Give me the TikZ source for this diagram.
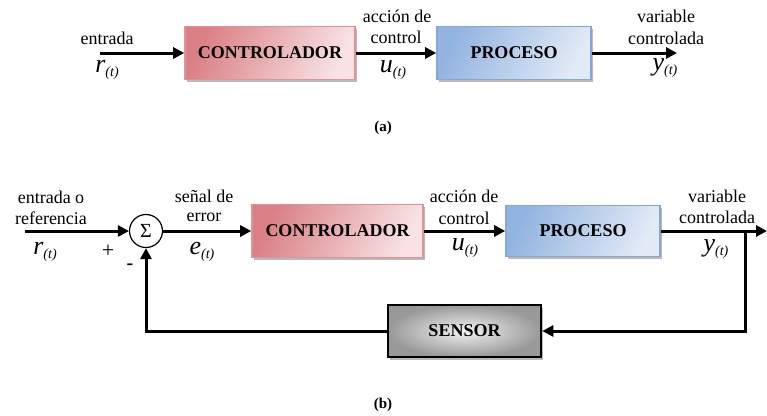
\documentclass[tikz,border=0pt]{standalone}
\usepackage{fontspec}
\setmainfont{Liberation Serif}
\usetikzlibrary{arrows.meta,shadows}
\definecolor{redB}{RGB}{224,146,148}
\definecolor{redD}{RGB}{218,128,133}
\definecolor{redL}{RGB}{248,226,228}
\definecolor{bluB}{RGB}{132,168,214}
\definecolor{bluD}{RGB}{146,180,224}
\definecolor{bluL}{RGB}{226,234,246}
\newcommand\sigt[1]{{\fontsize{26}{26}\selectfont\itshape #1}\raisebox{-4pt}{\fontsize{14}{14}\selectfont\itshape(t)}}
\tikzset{
  blkbase/.style={inner sep=0pt, font=\fontsize{18}{18}\selectfont\bfseries,
    drop shadow={shadow xshift=1.5pt, shadow yshift=-2.5pt, fill=gray!55, opacity=1}},
  ctrlbox/.style={blkbase, draw=redB, line width=1.6pt, left color=redD, right color=redL, shading angle=65},
  procbox/.style={blkbase, draw=bluB, line width=1.6pt, left color=bluD, right color=bluL, shading angle=65},
  sensbox/.style={blkbase, draw=black, line width=2.6pt, shading=radial, inner color=gray!10, outer color=gray!80},
  lbl/.style={inner sep=0pt, font=\fontsize{18}{19}\selectfont},
  sig/.style={inner sep=0pt},
  arr/.style={line width=3pt, -{Triangle[length=11pt,width=11pt]}},
  sumc/.style={circle, draw, line width=1.2pt, minimum size=33pt, inner sep=0pt, font=\fontsize{20}{20}\selectfont},
  captxt/.style={inner sep=0pt, font=\fontsize{15}{15}\selectfont\bfseries}
}
\begin{document}
\begin{tikzpicture}[x=1pt,y=-1pt]
\useasboundingbox (0,0) rectangle (767,415);
% ---------- (a)
\node[ctrlbox, minimum width=170pt, minimum height=53pt] (ca) at (270,53) {CONTROLADOR};
\node[procbox, minimum width=154pt, minimum height=53pt] (pa) at (514,53) {PROCESO};
\coordinate (ina) at (100,53);
\coordinate (outa) at (677,53);
\draw[arr] (ina) -- (ca.west);
\draw[arr] (ca.east) -- (pa.west);
\draw[arr] (pa.east) -- (outa);
\node[lbl] (ta1) at (107,38) {entrada};
\node[sig] (ra) at (107,70) {\sigt{r}};
\node[lbl] (ta2) at (397,16) {acción de};
\node[lbl] (ta3) at (396,37) {control};
\node[sig] (ua) at (393,70) {\sigt{u}};
\node[lbl] (ta4) at (666,16) {variable};
\node[lbl] (ta5) at (666,38) {controlada};
\node[sig] (ya) at (665,68) {\sigt{y}};
\node[captxt] (capa) at (383,128) {(a)};
% ---------- (b)
\node[sumc] (sum) at (146,231) {Σ};
\node[ctrlbox, minimum width=171pt, minimum height=53pt] (cb) at (337.5,231) {CONTROLADOR};
\node[procbox, minimum width=154pt, minimum height=51pt] (pb) at (583,231) {PROCESO};
\node[sensbox, minimum width=153pt, minimum height=52pt] (sb) at (464.5,331) {SENSOR};
\coordinate (inb) at (25,231);
\coordinate (outb) at (767,231);
\coordinate (br) at (745,231);
\coordinate (brd) at (745,331);
\coordinate (fbl) at (146,331);
\draw[arr] (inb) -- (sum.west);
\draw[arr] (sum.east) -- (cb.west);
\draw[arr] (cb.east) -- (pb.west);
\draw[arr] (pb.east) -- (outb);
\draw[arr] (br) -- (brd) -- (sb.east);
\draw[arr] (sb.west) -- (fbl) -- (sum.south);
\node[lbl] (tb1) at (51,197) {entrada o};
\node[lbl] (tb2) at (51,218) {referencia};
\node[sig] (rb) at (45,252) {\sigt{r}};
\node[lbl, font=\fontsize{22}{22}\selectfont] (plus) at (108,251) {+};
\node[lbl, font=\fontsize{20}{20}\selectfont\bfseries] (minus) at (130,267) {-};
\node[lbl] (tb3) at (204,196) {señal de};
\node[lbl] (tb4) at (204,217) {error};
\node[sig] (eb) at (202,252) {\sigt{e}};
\node[lbl] (tb5) at (464,196) {acción de};
\node[lbl] (tb6) at (464,218) {control};
\node[sig] (ub) at (465,248) {\sigt{u}};
\node[lbl] (tb7) at (717,196) {variable};
\node[lbl] (tb8) at (717,217) {controlada};
\node[sig] (yb) at (716,249) {\sigt{y}};
\node[captxt] (capb) at (383,405) {(b)};
\end{tikzpicture}
\end{document}
